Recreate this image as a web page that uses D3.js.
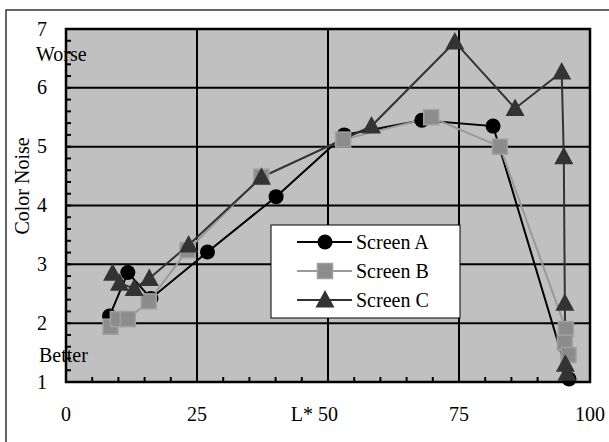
<!DOCTYPE html>
<html>
<head>
<meta charset="utf-8">
<script src="https://cdn.jsdelivr.net/npm/d3@7"></script>
<style>
  html, body { margin: 0; padding: 0; overflow: hidden; background: #fff; }
  svg { display: block; }
  svg text { font-family: "Liberation Serif", "Times New Roman", serif; font-size: 20px; fill: #000; }
</style>
</head>
<body>
<svg id="chart" width="609" height="442"></svg>
<script>
// data
const screenA = [
  [8.3, 2.12], [11.8, 2.86], [16.2, 2.42], [27.0, 3.21], [40.1, 4.15],
  [53.1, 5.2], [67.9, 5.45], [81.5, 5.35], [96.0, 1.05]
];
const screenB = [
  [8.5, 1.94], [9.9, 2.07], [11.8, 2.07], [15.8, 2.37], [23.2, 3.24],
  [37.3, 4.49], [52.9, 5.12], [69.7, 5.5], [82.8, 5.0], [95.4, 1.9],
  [95.2, 1.67], [95.9, 1.46]
];
const screenC = [
  [8.9, 2.85], [10.2, 2.68], [13.0, 2.59], [15.9, 2.76], [23.4, 3.33],
  [37.3, 4.48], [58.3, 5.35], [74.2, 6.78], [85.7, 5.65], [94.6, 6.27],
  [95.0, 4.83], [95.2, 2.34], [95.3, 1.3], [95.6, 1.15]
];
const seriesNames = ["Screen A", "Screen B", "Screen C"];
const xTicks = [0, 25, 50, 75, 100];
const yTicks = [1, 2, 3, 4, 5, 6, 7];

const svg = d3.select("#chart");
const plot = { left: 66, right: 590, top: 29, bottom: 382 };

const x = d3.scaleLinear().domain([0, 100]).range([plot.left, plot.right]);
const y = d3.scaleLinear().domain([1, 7]).range([plot.bottom, plot.top]);

// outer frame (right and bottom edges fall outside the picture)
svg.append("rect")
  .attr("x", 6).attr("y", 10).attr("width", 620).attr("height", 450)
  .attr("fill", "none").attr("stroke", "#333").attr("stroke-width", 1.5);

// plot background
svg.append("rect")
  .attr("x", plot.left).attr("y", plot.top)
  .attr("width", plot.right - plot.left).attr("height", plot.bottom - plot.top)
  .attr("fill", "#c0c0c0");

// gridlines
svg.append("g").selectAll("line").data(xTicks.slice(1, -1)).enter().append("line")
  .attr("x1", d => x(d)).attr("x2", d => x(d)).attr("y1", plot.top).attr("y2", plot.bottom)
  .attr("stroke", "#000").attr("stroke-width", 2);
svg.append("g").selectAll("line").data(yTicks.slice(1, -1)).enter().append("line")
  .attr("y1", d => y(d)).attr("y2", d => y(d)).attr("x1", plot.left).attr("x2", plot.right)
  .attr("stroke", "#000").attr("stroke-width", 2);

// minor ticks (inside)
svg.append("g").selectAll("line").data(d3.range(5, 100, 5)).enter().append("line")
  .attr("x1", d => x(d)).attr("x2", d => x(d)).attr("y1", plot.bottom).attr("y2", plot.bottom - 5)
  .attr("stroke", "#000").attr("stroke-width", 2);
svg.append("g").selectAll("line").data(d3.range(1.2, 7, 0.2)).enter().append("line")
  .attr("y1", d => y(d)).attr("y2", d => y(d)).attr("x1", plot.left).attr("x2", plot.left + 5)
  .attr("stroke", "#000").attr("stroke-width", 2);

// plot border
svg.append("rect")
  .attr("x", plot.left).attr("y", plot.top)
  .attr("width", plot.right - plot.left).attr("height", plot.bottom - plot.top)
  .attr("fill", "none").attr("stroke", "#000").attr("stroke-width", 2.5);

// tick labels
svg.append("g").selectAll("text").data(xTicks).enter().append("text")
  .attr("x", d => x(d)).attr("y", 421).attr("text-anchor", "middle").text(d => d);
svg.append("g").selectAll("text").data(yTicks).enter().append("text")
  .attr("x", 42).attr("y", d => y(d) + 6.5).attr("text-anchor", "middle").text(d => d);

svg.append("text").attr("x", x(50) - 15).attr("y", 421).attr("text-anchor", "end").text("L*");
svg.append("text").attr("x", 36).attr("y", 61).text("Worse");
svg.append("text").attr("x", 39).attr("y", 362).text("Better");
svg.append("text")
  .attr("transform", "translate(29,186) rotate(-90)")
  .attr("text-anchor", "middle").text("Color Noise");

// series
const styles = [
  { data: screenA, line: "#000", fill: "#000", stroke: "#000", shape: "circle" },
  { data: screenB, line: "#999", fill: "#8c8c8c", stroke: "#a0a0a0", shape: "square" },
  { data: screenC, line: "#333", fill: "#333", stroke: "#333", shape: "triangle" }
];
const line = d3.line().x(d => x(d[0])).y(d => y(d[1]));

function marker(g, s) {
  if (s.shape === "circle") {
    g.append("circle").attr("r", 7.5).attr("fill", s.fill);
  } else if (s.shape === "square") {
    g.append("rect").attr("x", -7.5).attr("y", -7.5).attr("width", 15).attr("height", 15)
      .attr("fill", s.fill).attr("stroke", s.stroke).attr("stroke-width", 1.5);
  } else {
    g.append("path").attr("d", "M0,-10L9.5,7.5L-9.5,7.5Z").attr("fill", s.fill);
  }
}

styles.forEach(s => {
  svg.append("path").datum(s.data).attr("d", line)
    .attr("fill", "none").attr("stroke", s.line).attr("stroke-width", 2);
});
styles.forEach(s => {
  s.data.forEach(d => {
    const g = svg.append("g").attr("transform", `translate(${x(d[0])},${y(d[1])})`);
    marker(g, s);
  });
});

// legend
const legend = svg.append("g");
legend.append("rect")
  .attr("x", 271).attr("y", 225).attr("width", 189).attr("height", 93)
  .attr("fill", "#fff").attr("stroke", "#000").attr("stroke-width", 1);
styles.forEach((s, i) => {
  const ly = 242 + i * 29;
  legend.append("line").attr("x1", 297).attr("x2", 352).attr("y1", ly).attr("y2", ly)
    .attr("stroke", s.line).attr("stroke-width", 2);
  marker(legend.append("g").attr("transform", `translate(325,${ly})`), s);
  legend.append("text").attr("x", 356).attr("y", ly + 6.5).text(seriesNames[i]);
});
</script>
</body>
</html>
